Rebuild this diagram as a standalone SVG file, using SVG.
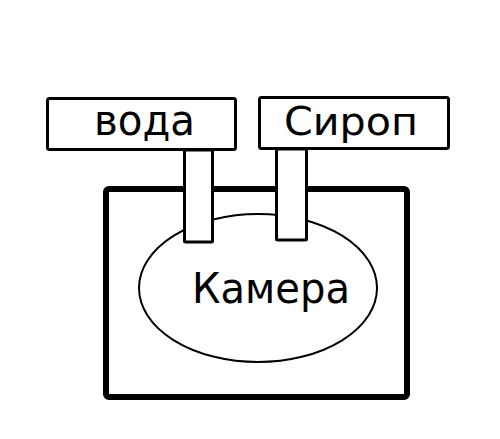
<svg xmlns="http://www.w3.org/2000/svg" width="500" height="439" viewBox="0 0 500 439">
<style>
.t{font-family:"DejaVu Sans","Liberation Sans",sans-serif;fill:#000}
.box{fill:#fff;stroke:#000;stroke-width:3}
.pipe{fill:#fff;stroke:#000;stroke-width:3}
</style>
<rect width="500" height="439" fill="#fff"/>
<g id="chamber-box">
<rect x="106" y="189" width="301" height="208" rx="3" fill="#fff" stroke="#000" stroke-width="6"/>
</g>
<g id="kamera">
<ellipse cx="258" cy="288" rx="119" ry="74" fill="#fff" stroke="#000" stroke-width="2"/>
<text class="t" x="192" y="303" font-size="43" textLength="158" lengthAdjust="spacingAndGlyphs">Камера</text>
</g>
<g id="connectors">
<rect class="pipe" x="184.5" y="150" width="28" height="92" rx="1"/>
<rect class="pipe" x="276.5" y="149" width="30" height="91" rx="1"/>
</g>
<g id="voda">
<rect class="box" x="47.5" y="98.5" width="188" height="51" rx="2"/>
<text class="t" x="94" y="135" font-size="43" textLength="101" lengthAdjust="spacingAndGlyphs">вода</text>
</g>
<g id="sirop">
<rect class="box" x="259.5" y="97.5" width="189" height="51" rx="2"/>
<text class="t" x="284" y="135" font-size="39" textLength="134" lengthAdjust="spacingAndGlyphs">Сироп</text>
</g>
</svg>
